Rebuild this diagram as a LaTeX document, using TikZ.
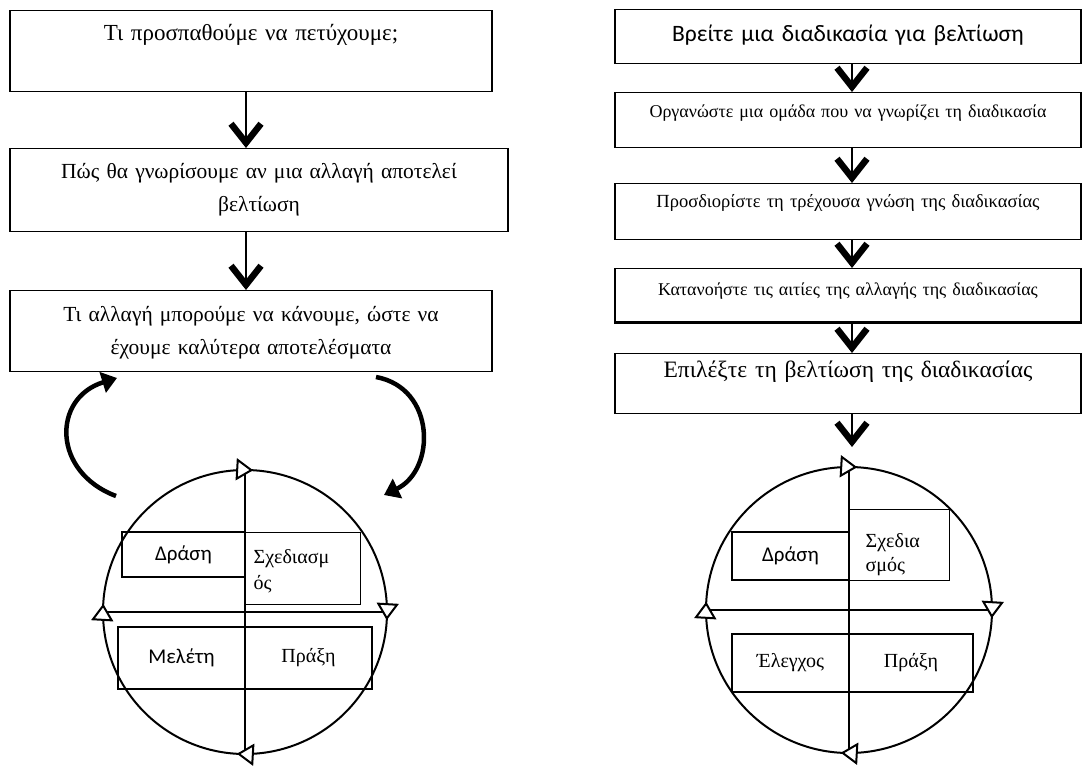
\documentclass[tikz,border=0pt]{standalone}
\usepackage{fontspec}
\setmainfont{Liberation Serif}
\newfontfamily\calibri{Carlito}
\usetikzlibrary{arrows.meta,positioning}

\begin{document}
\begin{tikzpicture}[x=1pt,y=-1pt,
    flow/.style={draw, line width=1.3pt, align=center, inner sep=0pt, anchor=north},
    big/.style={font=\fontsize{21.5}{33}\selectfont},
    cell/.style={draw, line width=1.3pt, inner sep=0pt, font=\fontsize{20}{26}\selectfont},
    flowarr/.style={line width=2.6pt, -{Straight Barb[length=19pt,width=30pt,line width=6.5pt]}},
    cyc/.style={line width=2pt, -{Triangle[length=17pt,width=22pt,fill=white,line width=2pt]}},
    roundarr/.style={line width=4.5pt, -{Triangle[length=15pt,width=21pt]}}]
  \useasboundingbox (0,0) rectangle (1084,769);
  \coordinate (lx) at (246,0);
  \coordinate (rx) at (852,0);

  % left column
  \node[flow, font=\fontsize{23}{33}\selectfont, text width=482pt, text height=30pt, text depth=51.5pt] (l1) at (251,9.5)
    {Τι προσπαθούμε να πετύχουμε;};
  \node[flow, big, text width=498pt, text height=30pt, text depth=53pt] (l2) at (259,148)
    {Πώς θα γνωρίσουμε αν μια αλλαγή αποτελεί\\βελτίωση};
  \node[flow, big, text width=482pt, text height=31pt, text depth=50pt] (l3) at (251,290)
    {Τι αλλαγή μπορούμε να κάνουμε, ώστε να\\έχουμε καλύτερα αποτελέσματα};
  \draw[flowarr] (l1.south -| lx) -- (l2.north -| lx);
  \draw[flowarr] (l2.south -| lx) -- (l3.north -| lx);

  % right column
  \node[flow, font=\calibri\fontsize{23.5}{25}\selectfont, text width=466pt, text height=32pt, text depth=22pt] (r1) at (848,9)
    {Βρείτε μια διαδικασία για βελτίωση};
  \node[flow, font=\fontsize{18}{22}\selectfont, text width=466pt, text height=25pt, text depth=30pt] (r2) at (848,92)
    {Οργανώστε μια ομάδα που να γνωρίζει τη διαδικασία};
  \node[flow, font=\fontsize{18.5}{22}\selectfont, text width=466pt, text height=24pt, text depth=32pt] (r3) at (848,183)
    {Προσδιορίστε τη τρέχουσα γνώση της διαδικασίας};
  \node[flow, font=\fontsize{18}{22}\selectfont, text width=466pt, text height=27pt, text depth=26pt] (r4) at (848,268)
    {Κατανοήστε τις αιτίες της αλλαγής της διαδικασίας};
  \node[flow, font=\fontsize{23.5}{25}\selectfont, text width=466pt, text height=24pt, text depth=36pt] (r5) at (848,353)
    {Επιλέξτε τη βελτίωση της διαδικασίας};
  \draw[line width=3pt] (r4.south west) -- (r4.south east);
  \coordinate (rtop) at (852,447);
  \draw[flowarr] (r1.south -| rx) -- (r2.north -| rx);
  \draw[flowarr] (r2.south -| rx) -- (r3.north -| rx);
  \draw[flowarr] (r3.south -| rx) -- (r4.north -| rx);
  \draw[flowarr] (r4.south -| rx) -- (r5.north -| rx);
  \draw[flowarr] (r5.south -| rx) -- (rtop);

  % left cycle
  \node[draw, circle, line width=2pt, minimum size=284pt, inner sep=0pt] (lc) at (245,612) {};
  \draw[line width=2pt] (lc.north) -- (lc.south);
  \draw[line width=2pt] (lc.west) -- (lc.east);
  \node[cell, font=\calibri\fontsize{21}{25}\selectfont, minimum width=123pt, minimum height=45pt] (ld) at (183.5,554.5) {Δράση};
  \node[cell, anchor=north west, align=left, inner xsep=8pt, text width=99pt, text height=31pt, text depth=41pt] (ls) at (245,532)
    {Σχεδιασμ\\ός};
  \node[cell, font=\calibri\fontsize{21}{25}\selectfont, minimum width=127pt, minimum height=62pt] (lm) at (181.5,658) {Μελέτη};
  \node[cell, minimum width=127pt, minimum height=62pt] (lp) at (308.5,658) {Πράξη};
  \foreach \a in {0,90,180,270}
    \draw[cyc] ([shift={(\a:142)}]lc.center) arc[start angle=\a, end angle=\a+3.3, radius=142];

  % right cycle
  \node[draw, circle, line width=2pt, minimum size=286pt, inner sep=0pt] (rc) at (849,610) {};
  \draw[line width=2pt] (rc.north) -- (rc.south);
  \draw[line width=2pt] (rc.west) -- (rc.east);
  \node[cell, font=\calibri\fontsize{21}{25}\selectfont, minimum width=117pt, minimum height=48pt] (rd) at (790.5,556) {Δράση};
  \node[cell, anchor=north west, align=left, inner xsep=16pt, text width=68pt, text height=38pt, text depth=33pt,
    font=\fontsize{20}{24}\selectfont] (rs) at (849,509) {Σχεδια\\σμός};
  \node[cell, minimum width=117pt, minimum height=58pt] (re) at (790.5,663) {Έλεγχος};
  \node[cell, minimum width=124pt, minimum height=58pt] (rp) at (911,663) {Πράξη};
  \foreach \a in {0,90,180,270}
    \draw[cyc] ([shift={(\a:143)}]rc.center) arc[start angle=\a, end angle=\a+3.3, radius=143];

  % loop arrows round the left cycle
  \coordinate (la) at (116,496);
  \coordinate (lb) at (117,378);
  \coordinate (ra) at (376,377);
  \coordinate (rb) at (384,495);
  \draw[roundarr] (la) .. controls (52,472) and (52,398) .. (lb);
  \draw[roundarr] (ra) .. controls (436,388) and (436,470) .. (rb);
\end{tikzpicture}
\end{document}
